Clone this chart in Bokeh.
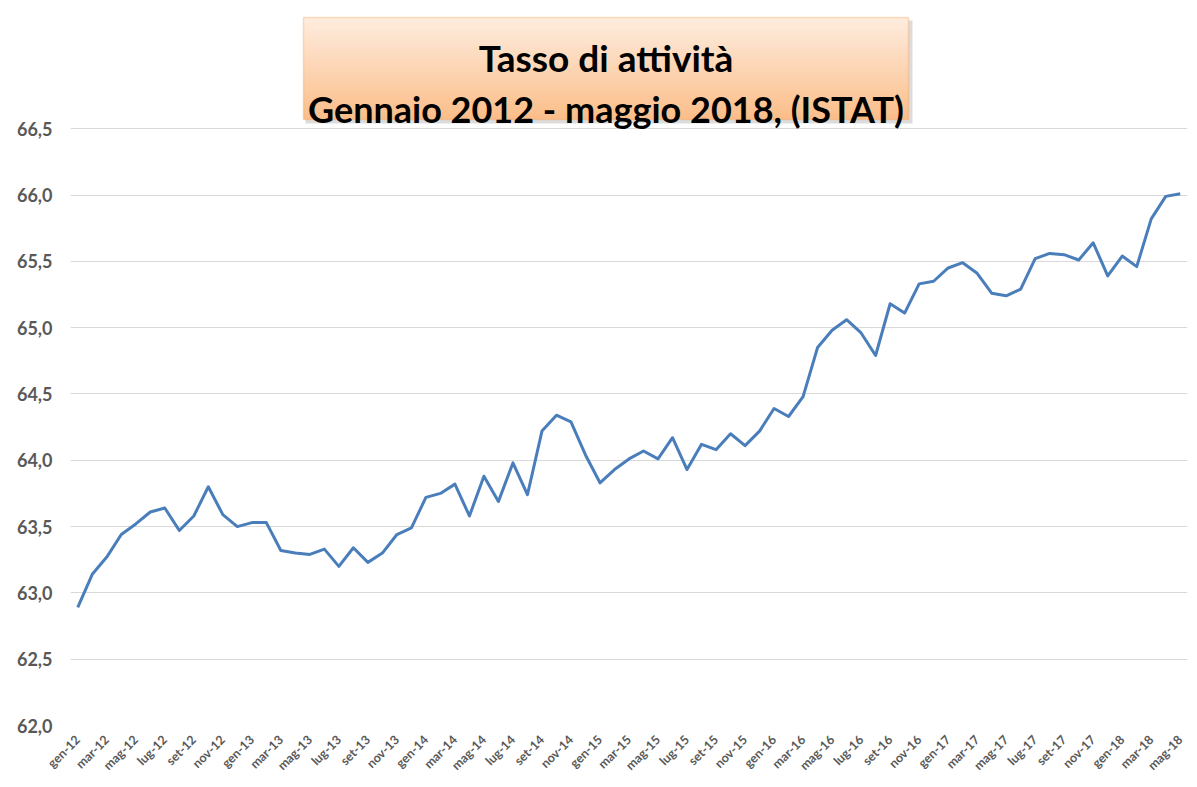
import math
from bokeh.plotting import figure
from bokeh.models import Range1d, FixedTicker, BoxAnnotation, Label
from bokeh.embed import file_html
from bokeh.resources import INLINE

month_names = ["gen", "feb", "mar", "apr", "mag", "giu", "lug", "ago", "set", "ott", "nov", "dic"]
years = ["12", "13", "14", "15", "16", "17", "18"]
months = [f"{m}-{y}" for y in years for m in month_names][:77]

values = [
    62.89, 63.14, 63.27, 63.44, 63.52, 63.61, 63.64, 63.47, 63.58, 63.80, 63.59, 63.50,
    63.53, 63.53, 63.32, 63.30, 63.29, 63.33, 63.20, 63.34, 63.23, 63.30, 63.44, 63.49,
    63.72, 63.75, 63.82, 63.58, 63.88, 63.69, 63.98, 63.74, 64.22, 64.34, 64.29, 64.04,
    63.83, 63.93, 64.01, 64.07, 64.01, 64.17, 63.93, 64.12, 64.08, 64.20, 64.11, 64.22,
    64.39, 64.33, 64.48, 64.85, 64.98, 65.06, 64.96, 64.79, 65.18, 65.11, 65.33, 65.35,
    65.45, 65.49, 65.41, 65.26, 65.24, 65.29, 65.52, 65.56, 65.55, 65.51, 65.64, 65.39,
    65.54, 65.46, 65.82, 65.99, 66.01,
]

y_ticks = [62.0, 62.5, 63.0, 63.5, 64.0, 64.5, 65.0, 65.5, 66.0, 66.5]
title_lines = ["Tasso di attività", "Gennaio 2012 - maggio 2018, (ISTAT)"]

W, H = 1188, 781
frame_left, frame_right = 70, 1187
frame_bottom = 726
px_per_unit = 132.8
y_start = y_ticks[0]
y_end = y_start + frame_bottom / px_per_unit

p = figure(width=W, height=H, output_backend="svg", toolbar_location=None,
           x_range=Range1d(-0.5, len(months) - 0.5),
           y_range=Range1d(y_start, y_end),
           min_border_left=frame_left, min_border_right=W - frame_right,
           min_border_top=0, min_border_bottom=H - frame_bottom)
p.outline_line_color = None
p.background_fill_color = "white"
p.border_fill_color = "white"

xs = list(range(len(values)))
p.line(xs, values, line_color="#4A7EBB", line_width=3, line_join="round")

# axes
p.xgrid.grid_line_color = None
p.ygrid.grid_line_color = "#D9D9D9"
p.ygrid.grid_line_width = 1
p.yaxis.ticker = FixedTicker(ticks=y_ticks)
p.yaxis.major_label_overrides = {t: f"{t:.1f}".replace(".", ",") for t in y_ticks}
p.yaxis.axis_line_color = None
p.yaxis.major_tick_line_color = None
p.yaxis.minor_tick_line_color = None
p.yaxis.major_tick_out = 0
p.yaxis.major_label_standoff = 18
p.yaxis.major_label_text_font = "Lato"
p.yaxis.major_label_text_font_style = "bold"
p.yaxis.major_label_text_font_size = "18px"
p.yaxis.major_label_text_color = "#595959"

p.xaxis.ticker = FixedTicker(ticks=list(range(0, len(months), 2)))
p.xaxis.major_label_overrides = {i: months[i] for i in range(0, len(months), 2)}
p.xaxis.major_label_orientation = math.pi / 4
p.xaxis.axis_line_color = None
p.xaxis.major_tick_line_color = None
p.xaxis.minor_tick_line_color = None
p.xaxis.major_tick_out = 0
p.xaxis.major_label_standoff = 12
p.xaxis.major_label_text_font = "Lato"
p.xaxis.major_label_text_font_style = "bold"
p.xaxis.major_label_text_font_size = "12.5px"
p.xaxis.major_label_text_color = "#595959"


def sx(px):  # page x -> screen units (from frame left)
    return px - frame_left


def sy(py):  # page y -> screen units (from frame bottom, upward)
    return frame_bottom - py


def box(l, t, r, b, **kw):
    return BoxAnnotation(left=sx(l), right=sx(r), top=sy(t), bottom=sy(b),
                         left_units="screen", right_units="screen",
                         top_units="screen", bottom_units="screen", **kw)


# title box
bx0, bx1, by0, by1 = 303, 908, 18, 120
p.add_layout(box(bx0 + 2, by0 + 3, bx1 + 4, by1 + 4, fill_color="#9a9a9a",
                 fill_alpha=0.35, line_color=None))
n_bands = 34
c0 = (0xFE, 0xEC, 0xDE)
c1 = (0xFB, 0xBE, 0x8A)
for k in range(n_bands):
    t = k / (n_bands - 1)
    col = "#%02x%02x%02x" % tuple(int(round(a + (b - a) * t)) for a, b in zip(c0, c1))
    top = by0 + (by1 - by0) * k / n_bands
    bot = by0 + (by1 - by0) * (k + 1) / n_bands + 0.6
    p.add_layout(box(bx0, top, bx1, min(bot, by1), fill_color=col, fill_alpha=1.0,
                     line_color=None))
p.add_layout(box(bx0, by0, bx1, by1, fill_alpha=0.0, line_color="#F79646", line_width=1.5))

cx = (bx0 + bx1) / 2
for txt, yb, fs in zip(title_lines, [58, 109], ["37px", "36px"]):
    p.add_layout(Label(x=sx(cx), y=sy(yb), x_units="screen", y_units="screen", text=txt,
                       text_align="center", text_baseline="alphabetic",
                       text_font="Lato", text_font_style="bold",
                       text_font_size=fs, text_color="black"))

open("out.html", "w").write(file_html(p, INLINE))
